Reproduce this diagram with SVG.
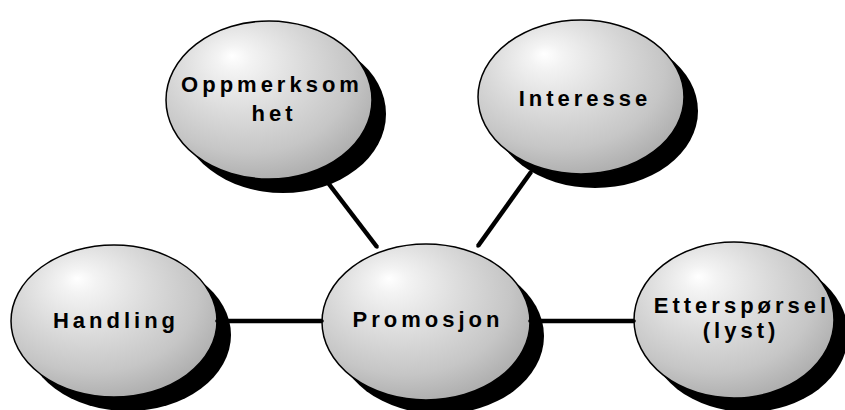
<svg xmlns="http://www.w3.org/2000/svg" width="845" height="410" viewBox="0 0 845 410">
  <defs>
    <!-- shaded sphere fill, light from the upper left -->
    <radialGradient id="ball" cx="0.42" cy="0.36" r="0.68" fx="0.32" fy="0.22">
      <stop offset="0" stop-color="#ffffff"/>
      <stop offset="0.12" stop-color="#f3f3f3"/>
      <stop offset="0.45" stop-color="#dbdbdb"/>
      <stop offset="0.75" stop-color="#c6c6c6"/>
      <stop offset="1" stop-color="#ababab"/>
    </radialGradient>
    <marker id="dot" viewBox="-2 -2 4 4" markerWidth="1.6" markerHeight="1.6" markerUnits="strokeWidth" refX="0" refY="0">
      <circle cx="0" cy="0" r="1" fill="#000"/>
    </marker>
  </defs>
  <style>
    .shadow { fill: #000; }
    .ball { fill: url(#ball); stroke: #000; stroke-width: 1.5; }
    .label { font-family: "Liberation Sans", Arial, sans-serif; font-weight: bold; font-size: 22px; letter-spacing: 4px; fill: #000; text-anchor: middle; }
    .link { stroke: #000; stroke-width: 4.5; fill: none; marker-start: url(#dot); marker-end: url(#dot); }
  </style>

  <g id="node-oppmerksomhet">
    <ellipse class="shadow" cx="283" cy="114" rx="103" ry="79"/>
    <ellipse class="ball" cx="269" cy="100" rx="103" ry="79"/>
    <text class="label" x="272" y="92">Oppmerksom</text>
    <text class="label" x="274" y="121">het</text>
  </g>

  <g id="node-interesse">
    <ellipse class="shadow" cx="595" cy="111" rx="103" ry="77"/>
    <ellipse class="ball" cx="581" cy="97" rx="103" ry="77"/>
    <text class="label" x="585" y="106">Interesse</text>
  </g>

  <g id="node-handling">
    <ellipse class="shadow" cx="128" cy="335" rx="103" ry="76"/>
    <ellipse class="ball" cx="114" cy="321" rx="103" ry="76"/>
    <text class="label" x="116" y="328">Handling</text>
  </g>

  <g id="node-promosjon">
    <ellipse class="shadow" cx="440" cy="336" rx="104" ry="78"/>
    <ellipse class="ball" cx="426" cy="322" rx="104" ry="78"/>
    <text class="label" x="428" y="327">Promosjon</text>
  </g>

  <g id="node-etterspoersel">
    <ellipse class="shadow" cx="748" cy="334" rx="100" ry="78"/>
    <ellipse class="ball" cx="734" cy="320" rx="100" ry="78"/>
    <text class="label" x="742" y="313">Etterspørsel</text>
    <text class="label" x="741" y="338">(lyst)</text>
  </g>

  <g id="connectors">
    <line class="link" x1="322" y1="175" x2="377" y2="247"/>
    <line class="link" x1="531" y1="172" x2="478" y2="246"/>
    <line class="link" x1="217" y1="321" x2="322" y2="321"/>
    <line class="link" x1="530" y1="321" x2="634" y2="321"/>
  </g>
</svg>
